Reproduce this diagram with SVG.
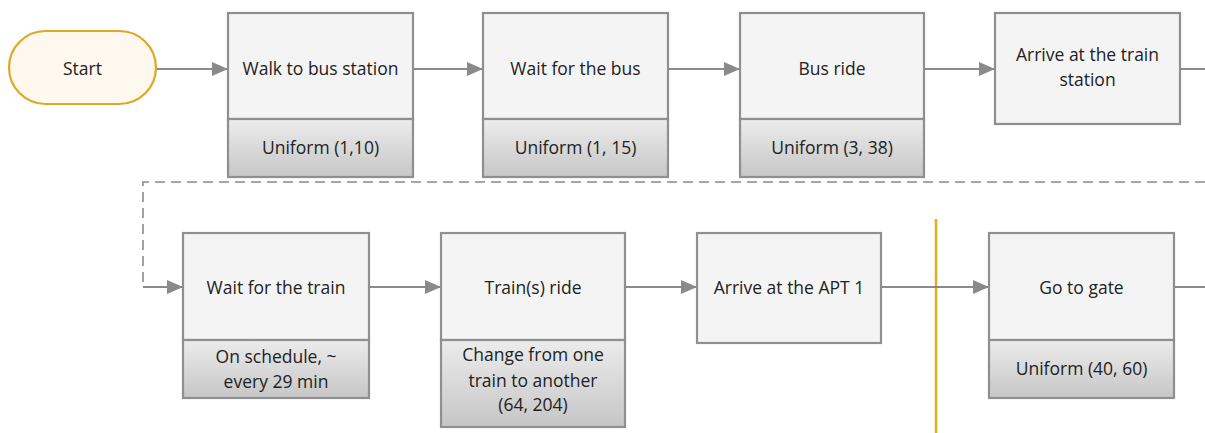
<svg xmlns="http://www.w3.org/2000/svg" width="1205" height="433" viewBox="0 0 1205 433">
  <defs>
    <linearGradient id="lowerFill" x1="0" y1="0" x2="0" y2="1">
      <stop offset="0" stop-color="#ececec"/>
      <stop offset="1" stop-color="#c6c6c6"/>
    </linearGradient>
    <marker id="arrow" viewBox="0 0 16 14" refX="16" refY="7" markerWidth="16" markerHeight="14" markerUnits="userSpaceOnUse" orient="auto">
      <path d="M0,0 L16,7 L0,14 Z" fill="#8a8a8a"/>
    </marker>
    <style>
      .box { fill: #f4f4f4; stroke: #8f8f8f; stroke-width: 2.2; }
      .low { fill: url(#lowerFill); stroke: #8f8f8f; stroke-width: 2.2; }
      .lbl { font-family: "Open Sans", "Noto Sans", sans-serif; font-size: 17.5px; fill: #222222; text-anchor: middle; }
      .edge { fill: none; stroke: #8a8a8a; stroke-width: 2; }
      .dash { fill: none; stroke: #8a8a8a; stroke-width: 1.6; stroke-dasharray: 10 6; }
    </style>
  </defs>
  <rect width="1205" height="433" fill="#ffffff"/>

  <!-- divider between airport access and terminal -->
  <line x1="936" y1="219" x2="936" y2="433" stroke="#e2ae1c" stroke-width="2.5"/>

  <g id="connectors">
    <line class="edge" x1="156" y1="69" x2="228" y2="69" marker-end="url(#arrow)"/>
    <line class="edge" x1="413" y1="69" x2="483" y2="69" marker-end="url(#arrow)"/>
    <line class="edge" x1="668" y1="69" x2="740" y2="69" marker-end="url(#arrow)"/>
    <line class="edge" x1="924" y1="69" x2="995" y2="69" marker-end="url(#arrow)"/>
    <line class="edge" x1="1180" y1="69" x2="1205" y2="69"/>
    <polyline class="dash" points="1205,182 143,182 143,287"/>
    <line class="edge" x1="143" y1="287" x2="183" y2="287" marker-end="url(#arrow)"/>
    <line class="edge" x1="369" y1="287" x2="441" y2="287" marker-end="url(#arrow)"/>
    <line class="edge" x1="625" y1="287" x2="697" y2="287" marker-end="url(#arrow)"/>
    <line class="edge" x1="881" y1="287" x2="989" y2="287" marker-end="url(#arrow)"/>
    <line class="edge" x1="1174" y1="287" x2="1205" y2="287"/>
  </g>

  <g id="start">
    <rect x="9" y="31" width="147" height="73" rx="36.5" ry="36.5" fill="#fef8ee" stroke="#dca826" stroke-width="2.2"/>
    <text class="lbl" x="82.5" y="75">Start</text>
  </g>

  <g id="walk">
    <rect class="box" x="228" y="13" width="185" height="106"/>
    <rect class="low" x="228" y="119" width="185" height="58"/>
    <text class="lbl" x="320.5" y="75">Walk to bus station</text>
    <text class="lbl" x="320.5" y="154">Uniform (1,10)</text>
  </g>

  <g id="wait-bus">
    <rect class="box" x="483" y="13" width="185" height="106"/>
    <rect class="low" x="483" y="119" width="185" height="58"/>
    <text class="lbl" x="575.5" y="75">Wait for the bus</text>
    <text class="lbl" x="575.5" y="154">Uniform (1, 15)</text>
  </g>

  <g id="bus-ride">
    <rect class="box" x="740" y="13" width="184" height="106"/>
    <rect class="low" x="740" y="119" width="184" height="58"/>
    <text class="lbl" x="832" y="75">Bus ride</text>
    <text class="lbl" x="832" y="154">Uniform (3, 38)</text>
  </g>

  <g id="arrive-train-station">
    <rect class="box" x="995" y="13" width="185" height="111"/>
    <text class="lbl" x="1087.5" y="61">Arrive at the train</text>
    <text class="lbl" x="1087.5" y="86">station</text>
  </g>

  <g id="wait-train">
    <rect class="box" x="183" y="233" width="186" height="107"/>
    <rect class="low" x="183" y="340" width="186" height="58"/>
    <text class="lbl" x="276" y="294">Wait for the train</text>
    <text class="lbl" x="276" y="363">On schedule, ~</text>
    <text class="lbl" x="276" y="388">every 29 min</text>
  </g>

  <g id="train-ride">
    <rect class="box" x="441" y="233" width="184" height="107"/>
    <rect class="low" x="441" y="340" width="184" height="87"/>
    <text class="lbl" x="533" y="294">Train(s) ride</text>
    <text class="lbl" x="533" y="361">Change from one</text>
    <text class="lbl" x="533" y="387">train to another</text>
    <text class="lbl" x="533" y="411">(64, 204)</text>
  </g>

  <g id="arrive-apt">
    <rect class="box" x="697" y="233" width="184" height="110"/>
    <text class="lbl" x="789" y="294">Arrive at the APT 1</text>
  </g>

  <g id="go-to-gate">
    <rect class="box" x="989" y="233" width="185" height="107"/>
    <rect class="low" x="989" y="340" width="185" height="58"/>
    <text class="lbl" x="1081.5" y="294">Go to gate</text>
    <text class="lbl" x="1081.5" y="375">Uniform (40, 60)</text>
  </g>
</svg>
